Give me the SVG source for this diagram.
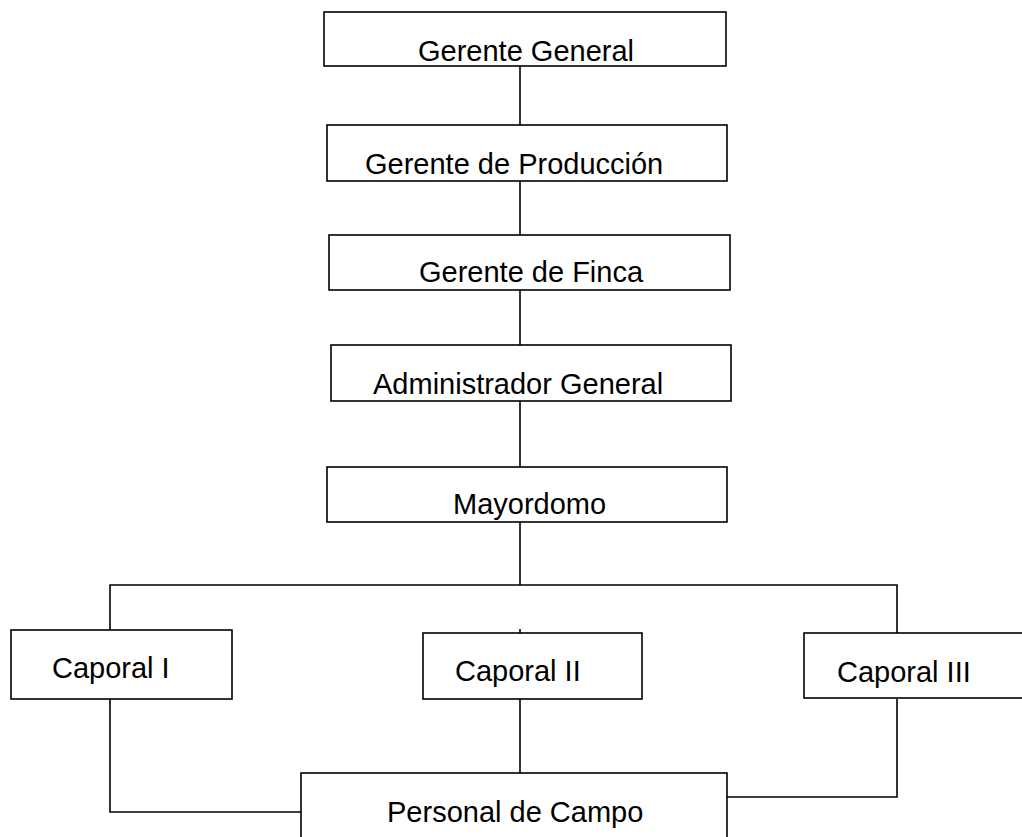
<svg xmlns="http://www.w3.org/2000/svg" width="1022" height="837" viewBox="0 0 1022 837">
<style>
.box{fill:#fff;stroke:#000;stroke-width:1.6}
.lbl{font-family:"Liberation Sans",Arial,sans-serif;font-size:29px;fill:#000}
.con{fill:none;stroke:#000;stroke-width:1.6}
</style>
<rect width="1022" height="837" fill="#fff"/>
<g id="connectors">
<line class="con" x1="520" y1="66" x2="520" y2="125"/>
<line class="con" x1="520" y1="181" x2="520" y2="235"/>
<line class="con" x1="520" y1="290" x2="520" y2="345"/>
<line class="con" x1="520" y1="401" x2="520" y2="467"/>
<line class="con" x1="520" y1="522" x2="520" y2="585"/>
<polyline class="con" points="110,630 110,585 897,585 897,633"/>
<line class="con" x1="520" y1="629" x2="520" y2="633"/>
<polyline class="con" points="110,699 110,812 301,812"/>
<line class="con" x1="520" y1="699" x2="520" y2="773"/>
<polyline class="con" points="897,699 897,797 727,797"/>
</g>
<g id="gerente-general">
<rect class="box" x="324" y="12" width="402" height="54"/>
<text class="lbl" x="418" y="61">Gerente General</text>
</g>
<g id="gerente-produccion">
<rect class="box" x="327" y="125" width="400" height="56"/>
<text class="lbl" x="365" y="174">Gerente de Producción</text>
</g>
<g id="gerente-finca">
<rect class="box" x="329" y="235" width="401" height="55"/>
<text class="lbl" x="419" y="282">Gerente de Finca</text>
</g>
<g id="administrador-general">
<rect class="box" x="331" y="345" width="400" height="56"/>
<text class="lbl" x="373" y="394">Administrador General</text>
</g>
<g id="mayordomo">
<rect class="box" x="327" y="467" width="400" height="55"/>
<text class="lbl" x="453" y="514">Mayordomo</text>
</g>
<g id="caporal-1">
<rect class="box" x="11" y="630" width="221" height="69"/>
<text class="lbl" x="52" y="678">Caporal I</text>
</g>
<g id="caporal-2">
<rect class="box" x="423" y="633" width="219" height="66"/>
<text class="lbl" x="455" y="681">Caporal II</text>
</g>
<g id="caporal-3">
<rect class="box" x="804" y="633" width="230" height="65"/>
<text class="lbl" x="837" y="682">Caporal III</text>
</g>
<g id="personal-campo">
<rect class="box" x="301" y="773" width="426" height="80"/>
<text class="lbl" x="387" y="822">Personal de Campo</text>
</g>
</svg>
